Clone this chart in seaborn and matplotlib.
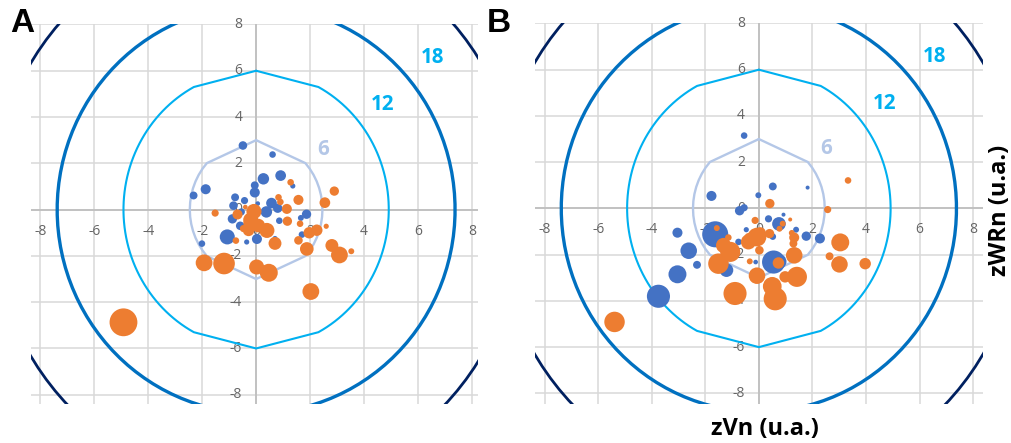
import numpy as np
import pandas as pd
import matplotlib
matplotlib.use("Agg")
import matplotlib.pyplot as plt
import matplotlib.transforms as mtrans
import seaborn as sns

# --- datos (x = zVn, y = zWRn, w = tamaño de burbuja) ---
a_azul_x = [-0.49, 0.61, 0.27, 0.91, 1.36, -1.87, -2.32, -0.05, -0.05, -0.78, -0.43, -0.84, 0.57, 0.38,
            0.80, 1.87, -0.88, -0.59, -1.07, -2.01, 0.03, -0.35, 0.86, 1.66, 1.70, 0.06, 0.70, -0.55]
a_azul_y = [2.77, 2.38, 1.33, 1.47, 1.02, 0.88, 0.61, 1.05, 0.74, 0.53, 0.39, 0.17, 0.28, -0.10,
            0.06, -0.20, -0.40, -0.70, -1.18, -1.47, -1.27, -1.40, -0.48, -0.36, -1.08, 0.26, -1.25, -0.10]
a_azul_w = [4.8, 2.6, 9, 7.8, 1.4, 6.8, 4, 4, 6.8, 4, 3.2, 4.8, 7.8, 9,
            5.8, 5.8, 5.8, 4.8, 16, 2.6, 6.8, 1.4, 2.6, 2, 2.6, 1, 1.4, 3.2]

a_naranja_x = [-4.92, 2.03, -1.93, -1.19, 0.02, 0.47, 3.09, 2.81, 3.53, 1.88, 0.70, 1.57, 1.97, 2.25,
               2.60, 2.55, 2.90, 1.57, 1.14, 1.16, 1.63, 1.28, 0.83, 0.90, -1.52, -0.69, -0.08, -0.20,
               -0.28, 0.08, 0.40, -0.47, -0.75, -0.30, -0.40, -0.26]
a_naranja_y = [-4.87, -3.54, -2.30, -2.33, -2.48, -2.73, -1.96, -1.55, -1.80, -1.70, -1.46, -1.33, -1.00, -0.89,
               -0.72, 0.30, 0.80, 0.42, 0.03, -0.50, -0.61, 1.18, 0.53, 0.33, -0.15, -0.21, -0.08, -0.45,
               -0.90, -0.69, -0.90, -0.82, -1.34, -0.30, 0.11, -0.60]
a_naranja_w = [56, 20, 20, 33.6, 16, 23, 20, 11.6, 2, 13, 11.6, 4.8, 9, 9,
               1.4, 7.8, 5.8, 6.8, 6.8, 5.8, 2.6, 2.6, 2.6, 2.6, 3.2, 6.8, 16, 16,
               9, 13, 16, 3.2, 2.6, 1.4, 1, 9]

b_azul_x = [-0.55, 0.52, 1.82, -0.02, -1.77, -0.72, -0.55, 0.36, 0.75, 0.92, 1.39, 1.77, 2.28, 0.52,
            -0.47, -0.76, -1.63, -3.04, -2.62, -2.31, -3.04, -3.75, -1.21, 0.55, 0.75, -0.12]
b_azul_y = [3.15, 0.95, 0.90, 0.57, 0.54, -0.10, 0.03, -0.45, -0.67, -0.27, -0.92, -1.20, -1.30, -1.22,
            -0.92, -1.45, -1.12, -1.05, -1.83, -2.44, -2.85, -3.80, -2.67, -2.32, -2.30, -2.32]
b_azul_w = [2.6, 4, 0.6, 2, 6.8, 5.8, 3.2, 3.2, 13, 0.6, 2, 5.8, 6.8, 2.6,
            1.4, 2.6, 49, 6.8, 19.4, 4, 23, 38.4, 13, 38.4, 16, 1]

b_naranja_x = [-5.39, 3.33, 2.57, 0.41, -0.14, 1.17, 0.89, 0.77, 1.23, 1.32, 1.29, 0.40, -0.07, -0.39,
               0.05, 0.02, -0.34, -1.07, -1.32, -1.51, -1.57, -1.14, 0.73, 1.32, -0.07, 0.98, 1.42, 0.50,
               0.61, -0.89, 3.04, 2.64, 3.01, 3.97, -0.35]
b_naranja_y = [-4.91, 1.21, -0.05, 0.21, -0.52, -0.48, -0.66, -0.88, -1.06, -1.26, -1.52, -1.09, -1.24, -1.45,
               -1.06, -1.81, -2.29, -1.88, -1.60, -2.39, -0.85, -1.26, -2.36, -2.03, -2.91, -2.96, -2.96, -3.37,
               -3.91, -3.68, -1.47, -2.07, -2.42, -2.39, -1.30]
b_naranja_w = [30, 2.6, 3.2, 5.8, 3.2, 0.6, 2, 2, 2, 6.8, 4, 5.8, 25, 16,
               9, 4.8, 2, 29, 16, 30, 2, 2.6, 9, 19.4, 19.4, 9, 29, 25,
               38.4, 38.4, 23, 4, 19.4, 9, 9]

niveles = [6, 12, 18, 24]
ticks = [-8, -6, -4, -2, 0, 2, 4, 6, 8]

colores_nivel = ["#b4c7e7", "#00b0f0", "#0070c0", "#002060"]
grosor_nivel = [1.7, 1.5, 2.4, 2.0]
alto_nivel = [3.0, 6.0, 8.8, 12.0]   # semieje vertical de cada anillo
tope_nivel = [42, 62, 89, 89]        # angulo donde acaba el tramo recto de arriba/abajo
paleta = {"azul": "#4472c4", "naranja": "#ed7d31"}


def tabla(xs, ys, ws, grupo):
    return pd.DataFrame({"x": xs, "y": ys, "w": ws, "grupo": grupo})


df_a = pd.concat([tabla(a_azul_x, a_azul_y, a_azul_w, "azul"),
                  tabla(a_naranja_x, a_naranja_y, a_naranja_w, "naranja")], ignore_index=True)
df_b = pd.concat([tabla(b_azul_x, b_azul_y, b_azul_w, "azul"),
                  tabla(b_naranja_x, b_naranja_y, b_naranja_w, "naranja")], ignore_index=True)


def anillo(nivel, b, tope, n):
    a = 0.41 * nivel
    ang = np.concatenate([[90], np.linspace(tope, -tope, n), [-90],
                          np.linspace(180 + tope, 180 - tope, n), [90]])
    t = np.radians(ang)
    return a * np.cos(t), b * np.sin(t)


sns.set_theme(style="white")
plt.rcParams["font.family"] = ["Open Sans", "DejaVu Sans"]

fig = plt.figure(figsize=(10.12, 4.43), dpi=100)
ax_a = fig.add_axes([31 / 1012, 1 - 404 / 443, 447 / 1012, 380 / 443])
ax_b = fig.add_axes([535 / 1012, 1 - 404 / 443, 448 / 1012, 381 / 443])


def panel(ax, df, xlim, ylim):
    ax.set_xlim(*xlim)
    ax.set_ylim(*ylim)
    ax.set_xticks(ticks)
    ax.set_yticks(ticks)
    ax.grid(True, color="#d9d9d9", lw=1.1)
    ax.set_axisbelow(True)
    ax.tick_params(length=0, labelbottom=False, labelleft=False)
    for s in ax.spines.values():
        s.set_visible(False)
    ax.axhline(0, color="#bfbfbf", lw=1.3, zorder=1)
    ax.axvline(0, color="#bfbfbf", lw=1.3, zorder=1)

    # etiquetas de ejes en el centro, como en excel
    tr_x = mtrans.offset_copy(ax.transData, fig=fig, x=0, y=-15.5, units="points")
    tr_y = mtrans.offset_copy(ax.transData, fig=fig, x=-10, y=0, units="points")
    for t in ticks:
        ax.text(t, 0, str(t), transform=tr_x, ha="center", va="center",
                fontsize=10, color="#666666", zorder=2)
        ax.text(0, t, str(t), transform=tr_y, ha="right", va="center",
                fontsize=10, color="#666666", zorder=2)

    for nivel, b, col, lw, tope in zip(niveles, alto_nivel, colores_nivel, grosor_nivel, tope_nivel):
        xs, ys = anillo(nivel, b, tope, 15 if nivel == 6 else 60)
        ax.plot(xs, ys, color=col, lw=lw, zorder=3)

    ax.text(6.55, 6.58, "18", color="#00b0f0", fontsize=14.8, fontweight="bold",
            ha="center", va="center", zorder=4)
    ax.text(4.68, 4.53, "12", color="#00b0f0", fontsize=14.8, fontweight="bold",
            ha="center", va="center", zorder=4)
    ax.text(2.5, 2.58, "6", color="#b4c7e7", fontsize=14.8, fontweight="bold",
            ha="center", va="center", zorder=4)

    sns.scatterplot(data=df, x="x", y="y", hue="grupo", size="w", palette=paleta,
                    sizes=(4, 430), size_norm=(0, 60), linewidth=0, alpha=1,
                    legend=False, ax=ax, zorder=5)
    ax.set_xlabel("")
    ax.set_ylabel("")


panel(ax_a, df_a, (-8.35, 8.23), (-8.4, 8.02))
panel(ax_b, df_b, (-8.36, 8.37), (-8.46, 8.02))

fig.text(10 / 1012, 1 - 23 / 443, "A", fontsize=24, fontweight="bold",
         family="Liberation Sans", ha="left", va="center", color="black")
fig.text(487 / 1012, 1 - 23 / 443, "B", fontsize=24, fontweight="bold",
         family="Liberation Sans", ha="left", va="center", color="black")
fig.text(765 / 1012, 1 - 429 / 443, "zVn (u.a.)", fontsize=17, fontweight="bold",
         ha="center", va="center", color="black")
fig.text(1000 / 1012, 1 - 210 / 443, "zWRn (u.a.)", fontsize=17, fontweight="bold",
         ha="center", va="center", rotation=90, color="black")

fig.savefig("out.png", dpi=100)
